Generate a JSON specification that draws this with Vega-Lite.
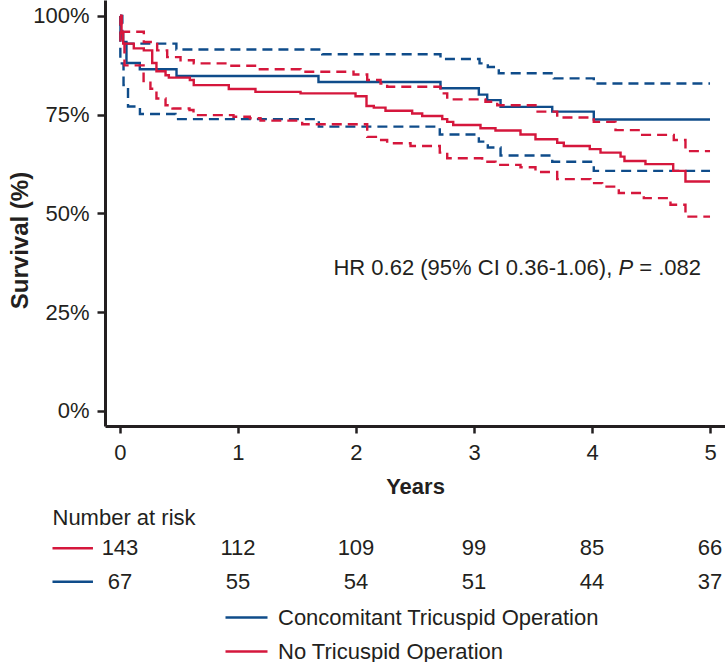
{
  "$schema": "https://vega.github.io/schema/vega-lite/v6.json",
  "padding": {"left": 8, "top": 0, "right": 0, "bottom": 0},
  "autosize": {"type": "pad"},
  "bounds": "flush",
  "spacing": 74,
  "config": {
    "view": {"stroke": null},
    "font": "Liberation Sans",
    "axis": {"domainColor": "#231f20", "domainWidth": 3, "tickColor": "#231f20", "tickWidth": 2.5, "labelFontSize": 22, "labelColor": "#231f20", "titleColor": "#231f20", "titleFontSize": 22, "titleFontWeight": "bold", "grid": false, "labelFont": "Liberation Sans", "titleFont": "Liberation Sans"},
    "text": {"font": "Liberation Sans", "fontSize": 22, "color": "#231f20"}
  },
  "resolve": {"scale": {"color": "shared"}, "legend": {"color": "shared"}},
  "datasets": {
    "km": [
      {"g": "Concomitant Tricuspid Operation", "s": "Estimate", "t": 0, "p": 100},
      {"g": "Concomitant Tricuspid Operation", "s": "Estimate", "t": 0.004, "p": 95.6},
      {"g": "Concomitant Tricuspid Operation", "s": "Estimate", "t": 0.027, "p": 93.4},
      {"g": "Concomitant Tricuspid Operation", "s": "Estimate", "t": 0.055, "p": 88.1},
      {"g": "Concomitant Tricuspid Operation", "s": "Estimate", "t": 0.168, "p": 86.5},
      {"g": "Concomitant Tricuspid Operation", "s": "Estimate", "t": 0.479, "p": 84.8},
      {"g": "Concomitant Tricuspid Operation", "s": "Estimate", "t": 1.682, "p": 83.3},
      {"g": "Concomitant Tricuspid Operation", "s": "Estimate", "t": 2.716, "p": 81.7},
      {"g": "Concomitant Tricuspid Operation", "s": "Estimate", "t": 3.041, "p": 80.1},
      {"g": "Concomitant Tricuspid Operation", "s": "Estimate", "t": 3.112, "p": 78.7},
      {"g": "Concomitant Tricuspid Operation", "s": "Estimate", "t": 3.225, "p": 77.0},
      {"g": "Concomitant Tricuspid Operation", "s": "Estimate", "t": 3.663, "p": 75.8},
      {"g": "Concomitant Tricuspid Operation", "s": "Estimate", "t": 4.015, "p": 73.8},
      {"g": "Concomitant Tricuspid Operation", "s": "Estimate", "t": 5.0, "p": 73.8},
      {"g": "Concomitant Tricuspid Operation", "s": "Upper 95% CI", "t": 0, "p": 100},
      {"g": "Concomitant Tricuspid Operation", "s": "Upper 95% CI", "t": 0.02, "p": 93.0},
      {"g": "Concomitant Tricuspid Operation", "s": "Upper 95% CI", "t": 0.478, "p": 91.5},
      {"g": "Concomitant Tricuspid Operation", "s": "Upper 95% CI", "t": 1.714, "p": 90.3},
      {"g": "Concomitant Tricuspid Operation", "s": "Upper 95% CI", "t": 2.716, "p": 89.1},
      {"g": "Concomitant Tricuspid Operation", "s": "Upper 95% CI", "t": 3.047, "p": 88.0},
      {"g": "Concomitant Tricuspid Operation", "s": "Upper 95% CI", "t": 3.117, "p": 87.1},
      {"g": "Concomitant Tricuspid Operation", "s": "Upper 95% CI", "t": 3.21, "p": 85.5},
      {"g": "Concomitant Tricuspid Operation", "s": "Upper 95% CI", "t": 3.676, "p": 84.2},
      {"g": "Concomitant Tricuspid Operation", "s": "Upper 95% CI", "t": 4.015, "p": 82.9},
      {"g": "Concomitant Tricuspid Operation", "s": "Upper 95% CI", "t": 5.0, "p": 82.9},
      {"g": "Concomitant Tricuspid Operation", "s": "Lower 95% CI", "t": 0, "p": 100},
      {"g": "Concomitant Tricuspid Operation", "s": "Lower 95% CI", "t": 0.003, "p": 88.0},
      {"g": "Concomitant Tricuspid Operation", "s": "Lower 95% CI", "t": 0.03, "p": 82.5},
      {"g": "Concomitant Tricuspid Operation", "s": "Lower 95% CI", "t": 0.068, "p": 77.1},
      {"g": "Concomitant Tricuspid Operation", "s": "Lower 95% CI", "t": 0.169, "p": 75.2},
      {"g": "Concomitant Tricuspid Operation", "s": "Lower 95% CI", "t": 0.47, "p": 73.9},
      {"g": "Concomitant Tricuspid Operation", "s": "Lower 95% CI", "t": 1.685, "p": 72.0},
      {"g": "Concomitant Tricuspid Operation", "s": "Lower 95% CI", "t": 2.71, "p": 70.0},
      {"g": "Concomitant Tricuspid Operation", "s": "Lower 95% CI", "t": 3.041, "p": 68.2},
      {"g": "Concomitant Tricuspid Operation", "s": "Lower 95% CI", "t": 3.117, "p": 66.7},
      {"g": "Concomitant Tricuspid Operation", "s": "Lower 95% CI", "t": 3.225, "p": 64.7},
      {"g": "Concomitant Tricuspid Operation", "s": "Lower 95% CI", "t": 3.663, "p": 63.1},
      {"g": "Concomitant Tricuspid Operation", "s": "Lower 95% CI", "t": 4.015, "p": 60.8},
      {"g": "Concomitant Tricuspid Operation", "s": "Lower 95% CI", "t": 5.0, "p": 60.8},
      {"g": "No Tricuspid Operation", "s": "Estimate", "t": 0, "p": 100},
      {"g": "No Tricuspid Operation", "s": "Estimate", "t": 0.013, "p": 95.6},
      {"g": "No Tricuspid Operation", "s": "Estimate", "t": 0.027, "p": 93.0},
      {"g": "No Tricuspid Operation", "s": "Estimate", "t": 0.117, "p": 91.8},
      {"g": "No Tricuspid Operation", "s": "Estimate", "t": 0.202, "p": 91.3},
      {"g": "No Tricuspid Operation", "s": "Estimate", "t": 0.273, "p": 88.1},
      {"g": "No Tricuspid Operation", "s": "Estimate", "t": 0.309, "p": 86.0},
      {"g": "No Tricuspid Operation", "s": "Estimate", "t": 0.386, "p": 85.0},
      {"g": "No Tricuspid Operation", "s": "Estimate", "t": 0.414, "p": 84.4},
      {"g": "No Tricuspid Operation", "s": "Estimate", "t": 0.592, "p": 83.8},
      {"g": "No Tricuspid Operation", "s": "Estimate", "t": 0.625, "p": 82.5},
      {"g": "No Tricuspid Operation", "s": "Estimate", "t": 0.922, "p": 81.5},
      {"g": "No Tricuspid Operation", "s": "Estimate", "t": 1.148, "p": 80.8},
      {"g": "No Tricuspid Operation", "s": "Estimate", "t": 1.53, "p": 80.4},
      {"g": "No Tricuspid Operation", "s": "Estimate", "t": 1.996, "p": 79.7},
      {"g": "No Tricuspid Operation", "s": "Estimate", "t": 2.089, "p": 77.2},
      {"g": "No Tricuspid Operation", "s": "Estimate", "t": 2.151, "p": 76.8},
      {"g": "No Tricuspid Operation", "s": "Estimate", "t": 2.25, "p": 76.0},
      {"g": "No Tricuspid Operation", "s": "Estimate", "t": 2.476, "p": 75.3},
      {"g": "No Tricuspid Operation", "s": "Estimate", "t": 2.561, "p": 74.7},
      {"g": "No Tricuspid Operation", "s": "Estimate", "t": 2.731, "p": 73.9},
      {"g": "No Tricuspid Operation", "s": "Estimate", "t": 2.773, "p": 73.2},
      {"g": "No Tricuspid Operation", "s": "Estimate", "t": 2.824, "p": 72.4},
      {"g": "No Tricuspid Operation", "s": "Estimate", "t": 3.055, "p": 71.6},
      {"g": "No Tricuspid Operation", "s": "Estimate", "t": 3.182, "p": 71.0},
      {"g": "No Tricuspid Operation", "s": "Estimate", "t": 3.394, "p": 70.0},
      {"g": "No Tricuspid Operation", "s": "Estimate", "t": 3.521, "p": 68.8},
      {"g": "No Tricuspid Operation", "s": "Estimate", "t": 3.705, "p": 67.9},
      {"g": "No Tricuspid Operation", "s": "Estimate", "t": 3.761, "p": 67.1},
      {"g": "No Tricuspid Operation", "s": "Estimate", "t": 3.981, "p": 66.3},
      {"g": "No Tricuspid Operation", "s": "Estimate", "t": 4.072, "p": 65.4},
      {"g": "No Tricuspid Operation", "s": "Estimate", "t": 4.242, "p": 64.4},
      {"g": "No Tricuspid Operation", "s": "Estimate", "t": 4.275, "p": 63.3},
      {"g": "No Tricuspid Operation", "s": "Estimate", "t": 4.453, "p": 62.5},
      {"g": "No Tricuspid Operation", "s": "Estimate", "t": 4.688, "p": 60.8},
      {"g": "No Tricuspid Operation", "s": "Estimate", "t": 4.792, "p": 58.1},
      {"g": "No Tricuspid Operation", "s": "Estimate", "t": 5.0, "p": 58.1},
      {"g": "No Tricuspid Operation", "s": "Upper 95% CI", "t": 0, "p": 100},
      {"g": "No Tricuspid Operation", "s": "Upper 95% CI", "t": 0.013, "p": 96.0},
      {"g": "No Tricuspid Operation", "s": "Upper 95% CI", "t": 0.202, "p": 93.4},
      {"g": "No Tricuspid Operation", "s": "Upper 95% CI", "t": 0.315, "p": 91.3},
      {"g": "No Tricuspid Operation", "s": "Upper 95% CI", "t": 0.4, "p": 89.6},
      {"g": "No Tricuspid Operation", "s": "Upper 95% CI", "t": 0.513, "p": 88.8},
      {"g": "No Tricuspid Operation", "s": "Upper 95% CI", "t": 0.625, "p": 88.0},
      {"g": "No Tricuspid Operation", "s": "Upper 95% CI", "t": 0.908, "p": 87.4},
      {"g": "No Tricuspid Operation", "s": "Upper 95% CI", "t": 1.163, "p": 86.5},
      {"g": "No Tricuspid Operation", "s": "Upper 95% CI", "t": 1.53, "p": 85.9},
      {"g": "No Tricuspid Operation", "s": "Upper 95% CI", "t": 1.979, "p": 85.2},
      {"g": "No Tricuspid Operation", "s": "Upper 95% CI", "t": 2.095, "p": 83.8},
      {"g": "No Tricuspid Operation", "s": "Upper 95% CI", "t": 2.208, "p": 82.9},
      {"g": "No Tricuspid Operation", "s": "Upper 95% CI", "t": 2.264, "p": 82.1},
      {"g": "No Tricuspid Operation", "s": "Upper 95% CI", "t": 2.716, "p": 80.4},
      {"g": "No Tricuspid Operation", "s": "Upper 95% CI", "t": 2.773, "p": 78.9},
      {"g": "No Tricuspid Operation", "s": "Upper 95% CI", "t": 3.097, "p": 78.3},
      {"g": "No Tricuspid Operation", "s": "Upper 95% CI", "t": 3.197, "p": 77.4},
      {"g": "No Tricuspid Operation", "s": "Upper 95% CI", "t": 3.521, "p": 75.8},
      {"g": "No Tricuspid Operation", "s": "Upper 95% CI", "t": 3.705, "p": 74.3},
      {"g": "No Tricuspid Operation", "s": "Upper 95% CI", "t": 4.015, "p": 73.2},
      {"g": "No Tricuspid Operation", "s": "Upper 95% CI", "t": 4.199, "p": 71.1},
      {"g": "No Tricuspid Operation", "s": "Upper 95% CI", "t": 4.425, "p": 69.9},
      {"g": "No Tricuspid Operation", "s": "Upper 95% CI", "t": 4.693, "p": 68.6},
      {"g": "No Tricuspid Operation", "s": "Upper 95% CI", "t": 4.792, "p": 65.8},
      {"g": "No Tricuspid Operation", "s": "Upper 95% CI", "t": 5.0, "p": 65.8},
      {"g": "No Tricuspid Operation", "s": "Lower 95% CI", "t": 0, "p": 100},
      {"g": "No Tricuspid Operation", "s": "Lower 95% CI", "t": 0.004, "p": 93.0},
      {"g": "No Tricuspid Operation", "s": "Lower 95% CI", "t": 0.038, "p": 87.5},
      {"g": "No Tricuspid Operation", "s": "Lower 95% CI", "t": 0.2, "p": 83.5},
      {"g": "No Tricuspid Operation", "s": "Lower 95% CI", "t": 0.258, "p": 81.6},
      {"g": "No Tricuspid Operation", "s": "Lower 95% CI", "t": 0.309, "p": 79.1},
      {"g": "No Tricuspid Operation", "s": "Lower 95% CI", "t": 0.386, "p": 77.4},
      {"g": "No Tricuspid Operation", "s": "Lower 95% CI", "t": 0.445, "p": 76.6},
      {"g": "No Tricuspid Operation", "s": "Lower 95% CI", "t": 0.589, "p": 76.2},
      {"g": "No Tricuspid Operation", "s": "Lower 95% CI", "t": 0.623, "p": 74.9},
      {"g": "No Tricuspid Operation", "s": "Lower 95% CI", "t": 0.962, "p": 74.5},
      {"g": "No Tricuspid Operation", "s": "Lower 95% CI", "t": 1.1, "p": 74.1},
      {"g": "No Tricuspid Operation", "s": "Lower 95% CI", "t": 1.191, "p": 73.5},
      {"g": "No Tricuspid Operation", "s": "Lower 95% CI", "t": 1.544, "p": 72.6},
      {"g": "No Tricuspid Operation", "s": "Lower 95% CI", "t": 2.095, "p": 69.4},
      {"g": "No Tricuspid Operation", "s": "Lower 95% CI", "t": 2.18, "p": 68.6},
      {"g": "No Tricuspid Operation", "s": "Lower 95% CI", "t": 2.264, "p": 67.8},
      {"g": "No Tricuspid Operation", "s": "Lower 95% CI", "t": 2.462, "p": 67.1},
      {"g": "No Tricuspid Operation", "s": "Lower 95% CI", "t": 2.71, "p": 65.4},
      {"g": "No Tricuspid Operation", "s": "Lower 95% CI", "t": 2.773, "p": 64.0},
      {"g": "No Tricuspid Operation", "s": "Lower 95% CI", "t": 3.069, "p": 63.1},
      {"g": "No Tricuspid Operation", "s": "Lower 95% CI", "t": 3.182, "p": 62.3},
      {"g": "No Tricuspid Operation", "s": "Lower 95% CI", "t": 3.394, "p": 61.7},
      {"g": "No Tricuspid Operation", "s": "Lower 95% CI", "t": 3.521, "p": 60.5},
      {"g": "No Tricuspid Operation", "s": "Lower 95% CI", "t": 3.705, "p": 58.7},
      {"g": "No Tricuspid Operation", "s": "Lower 95% CI", "t": 3.987, "p": 57.7},
      {"g": "No Tricuspid Operation", "s": "Lower 95% CI", "t": 4.086, "p": 56.8},
      {"g": "No Tricuspid Operation", "s": "Lower 95% CI", "t": 4.227, "p": 55.2},
      {"g": "No Tricuspid Operation", "s": "Lower 95% CI", "t": 4.439, "p": 53.9},
      {"g": "No Tricuspid Operation", "s": "Lower 95% CI", "t": 4.665, "p": 52.2},
      {"g": "No Tricuspid Operation", "s": "Lower 95% CI", "t": 4.792, "p": 49.2},
      {"g": "No Tricuspid Operation", "s": "Lower 95% CI", "t": 5.0, "p": 49.2}
    ],
    "risk": [
      {"g": "No Tricuspid Operation", "row": 1, "t": 0, "n": 143},
      {"g": "No Tricuspid Operation", "row": 1, "t": 1, "n": 112},
      {"g": "No Tricuspid Operation", "row": 1, "t": 2, "n": 109},
      {"g": "No Tricuspid Operation", "row": 1, "t": 3, "n": 99},
      {"g": "No Tricuspid Operation", "row": 1, "t": 4, "n": 85},
      {"g": "No Tricuspid Operation", "row": 1, "t": 5, "n": 66},
      {"g": "Concomitant Tricuspid Operation", "row": 2, "t": 0, "n": 67},
      {"g": "Concomitant Tricuspid Operation", "row": 2, "t": 1, "n": 55},
      {"g": "Concomitant Tricuspid Operation", "row": 2, "t": 2, "n": 54},
      {"g": "Concomitant Tricuspid Operation", "row": 2, "t": 3, "n": 51},
      {"g": "Concomitant Tricuspid Operation", "row": 2, "t": 4, "n": 44},
      {"g": "Concomitant Tricuspid Operation", "row": 2, "t": 5, "n": 37}
    ]
  },
  "vconcat": [
    {
      "width": 620,
      "height": 426,
      "layer": [
        {
          "data": {"name": "km"},
          "mark": {"type": "line", "interpolate": "step-after", "strokeWidth": 2.4},
          "encoding": {
            "x": {"field": "t", "type": "quantitative", "scale": {"domain": [-0.127, 5.127], "nice": false, "zero": false},
                  "axis": {"values": [0, 1, 2, 3, 4, 5], "format": "d", "title": "Years", "tickSize": 7, "labelPadding": 9, "titlePadding": 13}},
            "y": {"field": "p", "type": "quantitative", "scale": {"domain": [-3.8, 104.05], "nice": false, "zero": false},
                  "axis": {"values": [0, 25, 50, 75, 100], "labelExpr": "datum.value + '%'", "title": "Survival (%)", "tickSize": 8, "labelPadding": 8, "titlePadding": 0, "titleFontSize": 24, "titleY": 240}},
            "color": {"field": "g", "type": "nominal",
                      "scale": {"domain": ["Concomitant Tricuspid Operation", "No Tricuspid Operation"], "range": ["#0f4c8a", "#d5173c"]},
                      "legend": {"orient": "none", "legendX": 119, "legendY": 595, "title": null, "symbolType": "stroke", "symbolSize": 1764, "symbolStrokeWidth": 2.5, "labelFontSize": 22, "labelFont": "Liberation Sans", "labelColor": "#231f20", "labelOffset": 9, "labelLimit": 0, "rowPadding": -12.5, "padding": 0}},
            "strokeDash": {"field": "s", "type": "nominal",
                           "scale": {"domain": ["Estimate", "Lower 95% CI", "Upper 95% CI"], "range": [[1, 0], [10, 6], [10, 6]]},
                           "legend": null}
          }
        },
        {
          "data": {"values": [{}]},
          "mark": {"type": "text", "align": "left", "baseline": "middle", "fontSize": 22, "text": "HR 0.62 (95% CI 0.36-1.06),"},
          "encoding": {"x": {"datum": 1.809, "type": "quantitative"}, "y": {"datum": 36.2, "type": "quantitative"}}
        },
        {
          "data": {"values": [{}]},
          "mark": {"type": "text", "align": "left", "baseline": "middle", "fontSize": 22, "fontStyle": "italic", "text": "P"},
          "encoding": {"x": {"datum": 4.225, "type": "quantitative"}, "y": {"datum": 36.2, "type": "quantitative"}}
        },
        {
          "data": {"values": [{}]},
          "mark": {"type": "text", "align": "left", "baseline": "middle", "fontSize": 22, "text": "= .082"},
          "encoding": {"x": {"datum": 4.4, "type": "quantitative"}, "y": {"datum": 36.2, "type": "quantitative"}}
        }
      ]
    },
    {
      "width": 620,
      "height": 162,
      "layer": [
        {
          "data": {"values": [{}]},
          "mark": {"type": "text", "align": "left", "baseline": "middle", "fontSize": 22, "text": "Number at risk"},
          "encoding": {
            "x": {"datum": -0.572, "type": "quantitative", "scale": {"domain": [-0.127, 5.127], "nice": false, "zero": false}, "axis": null},
            "y": {"datum": 0.078, "type": "quantitative", "scale": {"domain": [-0.446, 4.404], "reverse": true, "nice": false, "zero": false}, "axis": null}
          }
        },
        {
          "data": {"name": "risk"},
          "transform": [{"filter": "datum.t == 0"}],
          "mark": {"type": "rule", "strokeWidth": 2.5},
          "encoding": {
            "x": {"datum": -0.572, "type": "quantitative"},
            "x2": {"datum": -0.229},
            "y": {"field": "row", "type": "quantitative"},
            "color": {"field": "g", "type": "nominal",
                      "legend": {"orient": "none", "legendX": 119, "legendY": 595, "title": null, "symbolType": "stroke", "symbolSize": 1764, "symbolStrokeWidth": 2.5, "labelFontSize": 22, "labelFont": "Liberation Sans", "labelColor": "#231f20", "labelOffset": 9, "labelLimit": 0, "rowPadding": -12.5, "padding": 0}}
          }
        },
        {
          "data": {"name": "risk"},
          "mark": {"type": "text", "align": "center", "baseline": "middle", "fontSize": 22},
          "encoding": {
            "x": {"field": "t", "type": "quantitative"},
            "y": {"field": "row", "type": "quantitative"},
            "text": {"field": "n", "type": "quantitative"}
          }
        }
      ]
    }
  ]
}
